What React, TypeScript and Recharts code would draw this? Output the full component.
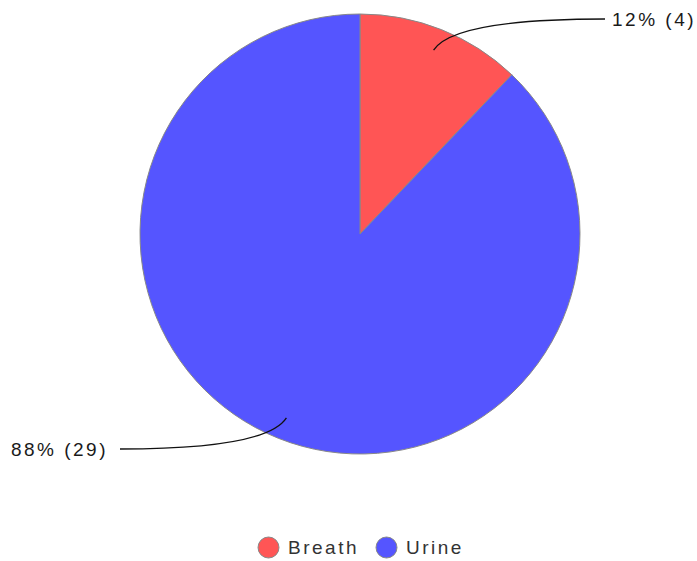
import React from "react";
import { PieChart, Pie, Cell, Legend } from "recharts";

const categories = ["Breath", "Urine"];
const counts = [4, 29];
const colors = ["#FF5555", "#5555FF"];

const data = categories.map((name, i) => ({ name, value: counts[i] }));
const total = counts.reduce((a, b) => a + b, 0);

const RAD = Math.PI / 180;
const FONT = "'Liberation Sans', Arial, sans-serif";

const renderLabel = (props: any) => {
  const { cx, cy, midAngle, outerRadius, value } = props;
  const cos = Math.cos(-midAngle * RAD);
  const sin = Math.sin(-midAngle * RAD);
  const r0 = outerRadius * 0.9;
  const sx = cx + r0 * cos;
  const sy = cy + r0 * sin;
  const right = cos >= 0;
  const ex = cx + (right ? 245 : -240);
  const ey = cy + (sin < 0 ? -215 : 215);
  const c1x = sx + (right ? 20 : -20);
  const c1y = ey;
  const pct = Math.round((value / total) * 100);
  const tx = right ? ex + 7 : ex - 12;
  return (
    <g>
      <path d={`M${sx},${sy} Q${c1x},${c1y} ${ex},${ey}`} stroke="#111" strokeWidth={1.3} fill="none" />
      <text
        x={tx}
        y={ey}
        textAnchor={right ? "start" : "end"}
        dominantBaseline="central"
        fill="#1a1a1a"
        fontSize={19}
        fontFamily={FONT}
        style={{ letterSpacing: "2.5px" }}
      >
        {`${pct}% (${value})`}
      </text>
    </g>
  );
};

const renderLegend = (props: any) => {
  const { payload } = props;
  return (
    <div style={{ display: "flex", justifyContent: "center", alignItems: "center", fontFamily: FONT }}>
      {payload.map((p: any, i: number) => (
        <div key={i} style={{ display: "flex", alignItems: "center", marginRight: i < payload.length - 1 ? 16 : 0 }}>
          <svg width={23} height={23} style={{ marginRight: 8 }}>
            <circle cx={11.5} cy={11.5} r={10.5} fill={p.color} stroke="#888" strokeWidth={1} />
          </svg>
          <span style={{ fontSize: 19, color: "#333", letterSpacing: "2.5px" }}>{p.value}</span>
        </div>
      ))}
    </div>
  );
};

export default function App() {
  return (
    <div style={{ position: "absolute", left: 0, top: 0, width: 697, height: 561, background: "#fff", fontFamily: FONT }}>
      <PieChart width={697} height={561} margin={{ top: 0, right: 0, bottom: 0, left: 0 }}>
        <Pie
          data={data}
          dataKey="value"
          nameKey="name"
          cx={360}
          cy={234}
          outerRadius={220}
          startAngle={90}
          endAngle={-270}
          stroke="#888"
          strokeWidth={1}
          label={renderLabel}
          labelLine={false}
          isAnimationActive={false}
        >
          {data.map((d, i) => (
            <Cell key={d.name} fill={colors[i]} />
          ))}
        </Pie>
        <Legend
          content={renderLegend}
          verticalAlign="bottom"
          wrapperStyle={{ bottom: 2, left: 0, width: 721 }}
        />
      </PieChart>
    </div>
  );
}
